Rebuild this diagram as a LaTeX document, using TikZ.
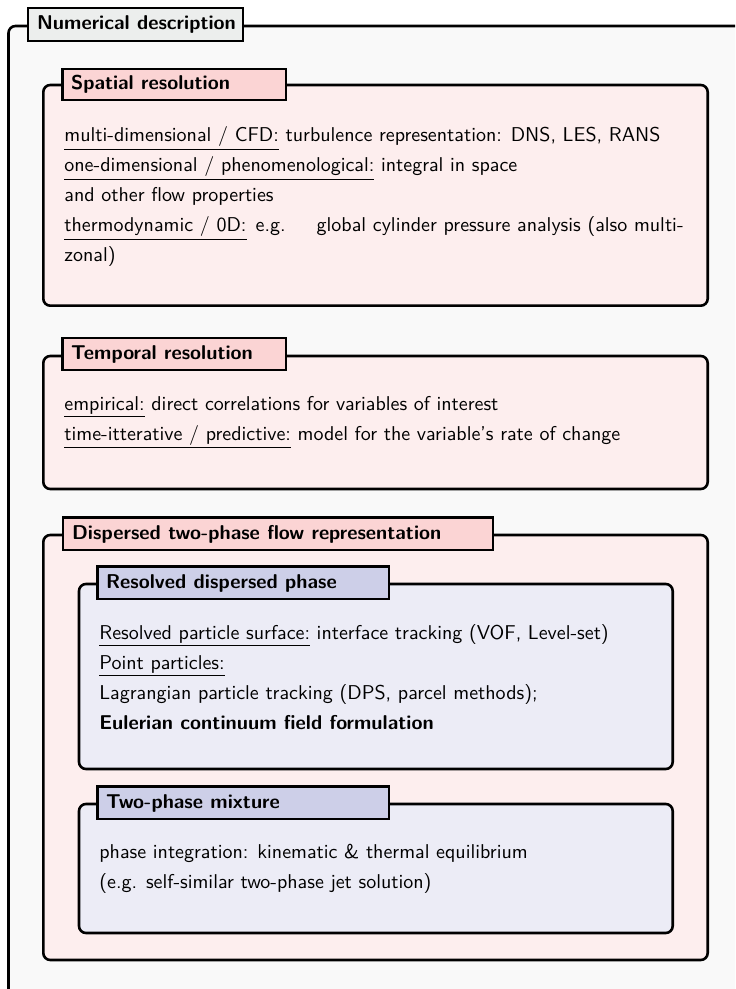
\documentclass[tikz,border=0pt]{standalone}
\definecolor{outerbg}{RGB}{249,249,249}
\definecolor{outertitle}{RGB}{236,238,237}
\definecolor{pinkbg}{RGB}{253,238,238}
\definecolor{pinktitle}{RGB}{251,212,212}
\definecolor{bluebg}{RGB}{236,236,246}
\definecolor{bluetitle}{RGB}{205,207,232}
\tikzset{
  frame/.style={draw=black, line width=1.3pt, rounded corners=3.5pt},
  titlebox/.style={draw=black, line width=1.3pt},
  ttl/.style={anchor=base west, inner sep=0pt, font=\sffamily\bfseries},
  txt/.style={anchor=base west, inner sep=0pt, font=\sffamily},
}
\begin{document}
\begin{tikzpicture}[x=0.5pt,y=-0.5pt]
\useasboundingbox (0,0) rectangle (735,989);
\clip (0,0) rectangle (735,989);
\fill[white] (0,0) rectangle (735,989);
% outer box
\draw[frame, fill=outerbg] (8.5,26) rectangle (770,1020);
\draw[titlebox, fill=outertitle] (28,8) rectangle (243,41);
\node[ttl] (tnum) at (36.7,30) {Numerical description};

% spatial
\draw[frame, fill=pinkbg] (43.3,85) rectangle (707.7,305.7);
\draw[titlebox, fill=pinktitle] (62.7,69) rectangle (286,100);
\node[ttl] (tspa) at (70.7,90) {Spatial resolution};
\node[txt] (s1) at (64,141.5) {\underline{multi-dimensional / CFD:} turbulence representation: DNS, LES, RANS};
\node[txt] (s2) at (64,171.7) {\underline{one-dimensional / phenomenological:} integral in space};
\node[txt] (s3) at (64,201.7) {and other flow properties};
\node[txt] (s4) at (64,231.7) {\underline{thermodynamic / 0D:}\hspace{4.6pt}e.g.\hspace{15.5pt}\makebox[183.5pt][s]{global cylinder pressure analysis (also multi-}};
\node[txt] (s5) at (64,261.7) {zonal)};

% temporal
\draw[frame, fill=pinkbg] (43.3,356) rectangle (707.7,489);
\draw[titlebox, fill=pinktitle] (62.7,338) rectangle (286,370);
\node[ttl] (ttem) at (70.7,359.5) {Temporal resolution};
\node[txt] (t1) at (64,410) {\underline{empirical:} direct correlations for variables of interest};
\node[txt] (t2) at (64,440) {\underline{time-itterative / predictive:} model for the variable's rate of change};

% dispersed
\draw[frame, fill=pinkbg] (43.3,535) rectangle (707.7,960);
\draw[titlebox, fill=pinktitle] (63,517.7) rectangle (493,550);
\node[ttl] (tdis) at (71.7,539) {Dispersed two-phase flow representation};

% resolved
\draw[frame, fill=bluebg] (79,584) rectangle (672.7,769);
\draw[titlebox, fill=bluetitle] (97.7,566.7) rectangle (389,599);
\node[ttl] (tres) at (105.7,588.5) {Resolved dispersed phase};
\node[txt] (r1) at (99,639) {\underline{Resolved particle surface:} interface tracking (VOF, Level-set)};
\node[txt] (r2) at (99,669) {\underline{Point particles:}};
\node[txt] (r3) at (99,699) {Lagrangian particle tracking (DPS, parcel methods);};
\node[txt] (r4) at (99,729) {\textbf{Eulerian continuum field formulation}};

% two-phase mixture
\draw[frame, fill=bluebg] (79,804) rectangle (672.7,933);
\draw[titlebox, fill=bluetitle] (97.7,786.7) rectangle (389,819);
\node[ttl] (ttwo) at (105.7,808.3) {Two-phase mixture};
\node[txt] (m1) at (99,858.3) {phase integration: kinematic \& thermal equilibrium};
\node[txt] (m2) at (99,888.3) {(e.g. self-similar two-phase jet solution)};
\end{tikzpicture}
\end{document}
